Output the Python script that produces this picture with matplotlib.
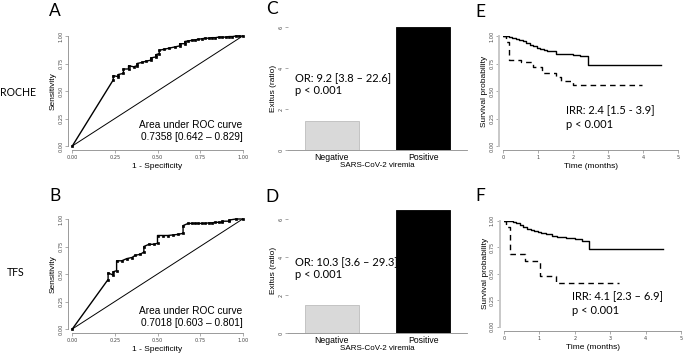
import numpy as np
import matplotlib.pyplot as plt

# ROC curves (1 - specificity, sensitivity)
roche_fpr = [0, 0.24, 0.24, 0.27, 0.27, 0.30, 0.30, 0.33, 0.33, 0.36, 0.38, 0.38,
             0.41, 0.43, 0.46, 0.46, 0.49, 0.49, 0.51, 0.51, 0.54, 0.57, 0.60, 0.63,
             0.63, 0.66, 0.66, 0.68, 0.70, 0.72, 0.74, 0.76, 0.78, 0.80, 0.82, 0.84,
             0.86, 0.88, 0.90, 0.92, 0.94, 0.96, 0.98, 1.0]
roche_tpr = [0, 0.60, 0.64, 0.63, 0.65, 0.66, 0.70, 0.70, 0.73, 0.72, 0.73, 0.75,
             0.76, 0.77, 0.78, 0.80, 0.81, 0.83, 0.84, 0.87, 0.88, 0.89, 0.90, 0.91,
             0.93, 0.93, 0.95, 0.955, 0.96, 0.965, 0.97, 0.975, 0.98, 0.98, 0.985, 0.985,
             0.99, 0.99, 0.99, 0.995, 0.995, 1.0, 1.0, 1.0]

tfs_fpr = [0, 0.21, 0.21, 0.24, 0.24, 0.26, 0.26, 0.29, 0.32, 0.35, 0.37, 0.40,
           0.42, 0.42, 0.45, 0.48, 0.50, 0.50, 0.53, 0.56, 0.59, 0.62, 0.65, 0.65,
           0.68, 0.70, 0.72, 0.74, 0.76, 0.78, 0.80, 0.82, 0.84, 0.86, 0.88, 0.88,
           0.92, 0.92, 0.96, 1.0]
tfs_tpr = [0, 0.45, 0.51, 0.49, 0.52, 0.53, 0.62, 0.62, 0.64, 0.65, 0.67, 0.68,
           0.70, 0.75, 0.77, 0.77, 0.78, 0.85, 0.85, 0.85, 0.855, 0.86, 0.87, 0.94,
           0.96, 0.96, 0.96, 0.96, 0.96, 0.96, 0.965, 0.965, 0.97, 0.97, 0.97, 0.98,
           0.98, 0.99, 1.0, 1.0]

# exitus ratio by viremia
viremia = ["Negative", "Positive"]
exitus_roche = [1.4, 6.0]
exitus_tfs = [1.5, 6.5]

# Kaplan-Meier curves (time in months, survival)
e_neg_t = [0, 0.15, 0.25, 0.35, 0.45, 0.55, 0.65, 0.75, 0.85, 0.95, 1.05, 1.15,
           1.25, 1.35, 1.5, 1.7, 2.0, 2.2, 2.41, 4.5]
e_neg_s = [1, 0.995, 0.985, 0.975, 0.965, 0.955, 0.935, 0.92, 0.91, 0.895, 0.885, 0.875,
           0.865, 0.86, 0.84, 0.835, 0.83, 0.815, 0.735, 0.735]
e_pos_t = [0, 0.08, 0.17, 0.5, 0.85, 1.1, 1.5, 1.65, 2.0, 3.95]
e_pos_s = [1, 0.95, 0.78, 0.76, 0.72, 0.66, 0.63, 0.59, 0.555, 0.555]

f_neg_t = [0, 0.15, 0.25, 0.35, 0.45, 0.55, 0.65, 0.75, 0.85, 0.95, 1.05, 1.2,
           1.35, 1.5, 1.75, 2.0, 2.2, 2.41, 4.5]
f_neg_s = [1, 0.995, 0.985, 0.975, 0.96, 0.945, 0.925, 0.91, 0.9, 0.89, 0.88, 0.87,
           0.86, 0.845, 0.835, 0.825, 0.81, 0.73, 0.73]
f_pos_t = [0, 0.07, 0.17, 0.6, 1.02, 1.47, 3.24]
f_pos_s = [1, 0.94, 0.69, 0.62, 0.48, 0.415, 0.415]

W, H = 685.0, 357.0
ARIAL = "Liberation Sans"
CALIBRI = "Lato"
GREY = "#8a8a8a"

fig = plt.figure(figsize=(W / 100, H / 100), dpi=100)


def box(x0, x1, y_bot, y_top):
    # pixel box -> figure fraction rect
    return [x0 / W, 1 - y_bot / H, (x1 - x0) / W, (y_bot - y_top) / H]


def ftext(x, y, s, **kw):
    fig.text(x / W, 1 - y / H, s, **kw)


def r_style(ax, spine_color=GREY, lw=0.6):
    for side in ["top", "right"]:
        ax.spines[side].set_visible(False)
    for side in ["left", "bottom"]:
        ax.spines[side].set_color(spine_color)
        ax.spines[side].set_linewidth(lw)
        ax.spines[side].set_position(("outward", 3))
    ax.tick_params(length=2, width=0.5, color=GREY, labelsize=3.6,
                   labelcolor="#444444", pad=1.5)
    for lab in ax.get_yticklabels():
        lab.set_rotation(90)
        lab.set_va("center")
    ax.patch.set_alpha(0)


# ---- ROC panels ----
roc_sets = [
    (72.3, 242.7, 146, 36, roche_fpr, roche_tpr, "0.7358 [0.642 \u2013 0.829]", 125, 137),
    (72.3, 242.7, 329, 219, tfs_fpr, tfs_tpr, "0.7018 [0.603 \u2013 0.801]", 311, 323),
]
for x0, x1, yb, yt, fpr, tpr, auc, y1, y2 in roc_sets:
    ax = fig.add_axes(box(x0, x1, yb, yt))
    ax.plot([0, 1], [0, 1], color="black", lw=0.7, clip_on=False)
    ax.plot(fpr, tpr, color="black", lw=1.0, marker="s", ms=2.0, mew=0.5, clip_on=False)
    ax.set_xlim(0, 1)
    ax.set_ylim(0, 1)
    ticks = [0, 0.25, 0.5, 0.75, 1.0]
    ax.set_xticks(ticks, ["0.00", "0.25", "0.50", "0.75", "1.00"])
    ax.set_yticks(ticks, ["0.00", "0.25", "0.50", "0.75", "1.00"])
    ax.spines["left"].set_bounds(0, 1)
    ax.spines["bottom"].set_bounds(0, 1)
    r_style(ax)
    ax.set_xlabel("1 - Specificity", fontsize=6, family=ARIAL, labelpad=2)
    ax.set_ylabel("Sensitivity", fontsize=6, family=ARIAL, labelpad=1)
    ftext(x1, y1, "Area under ROC curve", ha="right", va="center", fontsize=7.3, family=ARIAL)
    ftext(x1, y2, auc, ha="right", va="center", fontsize=7.3, family=ARIAL)

# ---- bar panels ----
bar_sets = [
    (box(288, 467, 150, 27), exitus_roche, 6.0, "OR: 9.2 [3.8 \u2013 22.6]", 79, 91),
    (box(288, 467, 333, 207.6), exitus_tfs, 6.6, "OR: 10.3 [3.6 \u2013 29.3]", 263, 275),
]
for rect, vals, ytop, orr, y1, y2 in bar_sets:
    ax = fig.add_axes(rect)
    x = np.arange(len(viremia))
    ax.bar(x, vals, width=0.59, color=["#d9d9d9", "black"],
           edgecolor=["#bdbdbd", "black"], linewidth=0.6)
    ax.set_xlim(-0.48, 1.48)
    ax.set_ylim(0, ytop)
    ax.set_xticks(x, viremia)
    ax.set_yticks([0, 2, 4, 6], ["0", "2", "4", "6"])
    for side in ["top", "right", "left"]:
        ax.spines[side].set_visible(False)
    ax.spines["bottom"].set_color(GREY)
    ax.spines["bottom"].set_linewidth(0.6)
    ax.tick_params(axis="y", length=2, width=0.5, color=GREY, labelsize=3.6,
                   labelcolor="#444444", pad=1)
    ax.tick_params(axis="x", length=0, labelsize=6.2, pad=2)
    for lab in ax.get_xticklabels():
        lab.set_family(ARIAL)
    for lab in ax.get_yticklabels():
        lab.set_rotation(90)
        lab.set_va("center")
    ax.set_xlabel("SARS-CoV-2 viremia", fontsize=5.8, family=ARIAL, labelpad=0.5)
    ax.set_ylabel("Exitus (ratio)", fontsize=6, family=ARIAL, labelpad=1)
    ax.patch.set_alpha(0)
    ftext(295, y1, orr, fontsize=8, family=CALIBRI, va="center")
    ftext(295, y2, "p < 0.001", fontsize=8, family=CALIBRI, va="center")

# ---- Kaplan-Meier panels ----
km_sets = [
    (box(503.3, 678.3, 146, 36), e_neg_t, e_neg_s, e_pos_t, e_pos_s,
     "IRR: 2.4 [1.5 - 3.9]", 566, 111, 124),
    (box(504, 681, 326.7, 220.7), f_neg_t, f_neg_s, f_pos_t, f_pos_s,
     "IRR: 4.1 [2.3 \u2013 6.9]", 572, 297, 310),
]
for rect, nt, ns, pt, ps, irr, tx, y1, y2 in km_sets:
    ax = fig.add_axes(rect)
    ax.step(nt, ns, where="post", color="black", lw=1.0)
    ax.step(pt, ps, where="post", color="black", lw=1.0, linestyle=(0, (4, 3)))
    ax.set_xlim(0, 5)
    ax.set_ylim(0, 1)
    ax.set_xticks(range(6), [str(i) for i in range(6)])
    ax.set_yticks([0, 0.25, 0.5, 0.75, 1.0], ["0.00", "0.25", "0.50", "0.75", "1.00"])
    ax.spines["left"].set_bounds(0, 1)
    ax.spines["bottom"].set_bounds(0, 5)
    r_style(ax)
    ax.spines["left"].set_color("#c8c8c8")
    ax.spines["left"].set_linewidth(1.4)
    ax.set_xlabel("Time (months)", fontsize=6, family=ARIAL, labelpad=2)
    ax.set_ylabel("Survival probability", fontsize=6, family=ARIAL, labelpad=1)
    ftext(tx, y1, irr, fontsize=8, family=CALIBRI, va="center")
    ftext(tx, y2, "p < 0.001", fontsize=8, family=CALIBRI, va="center")

# panel letters and row labels
for letter, x, y in [("A", 55, 11), ("B", 55, 196), ("C", 272, 9), ("D", 272, 197),
                     ("E", 480, 12), ("F", 480, 196)]:
    ftext(x, y, letter, fontsize=12.5, family=CALIBRI, ha="center", va="center")
ftext(18, 92, "ROCHE", fontsize=7.6, family=CALIBRI, ha="center", va="center")
ftext(16, 273, "TFS", fontsize=7.6, family=CALIBRI, ha="center", va="center")

fig.savefig("out.png", dpi=100)
